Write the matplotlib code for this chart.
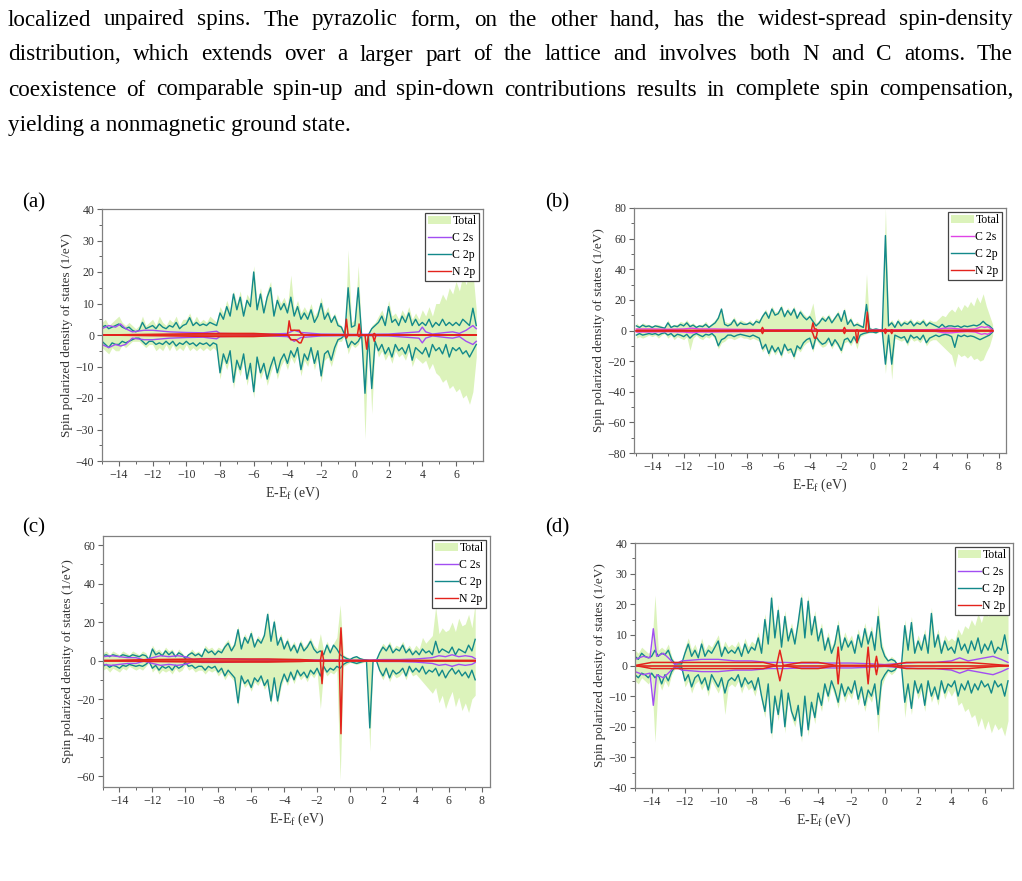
import numpy as np
import matplotlib
matplotlib.use("Agg")
import matplotlib.pyplot as plt
from matplotlib.patches import Patch
from matplotlib.lines import Line2D
from matplotlib.ticker import MultipleLocator

plt.rcParams['font.family'] = ['Liberation Serif', 'DejaVu Serif']
plt.rcParams['mathtext.fontset'] = 'custom'
plt.rcParams['mathtext.rm'] = 'Liberation Serif'
plt.rcParams['mathtext.it'] = 'Liberation Serif:italic'

# paragraph text above the figure
para_lines = [
    "localized unpaired spins. The pyrazolic form, on the other hand, has the widest-spread spin-density",
    "distribution, which extends over a larger part of the lattice and involves both N and C atoms. The",
    "coexistence of comparable spin-up and spin-down contributions results in complete spin compensation,",
    "yielding a nonmagnetic ground state.",
]

legend_labels = ["Total", "C 2s", "C 2p", "N 2p"]
panel_tags = ["(a)", "(b)", "(c)", "(d)"]

# ---------------- panel (a), 0.2 eV grid from -15 eV ----------------
c2p_up_a = [2.5, 3, 2, 2.5, 3, 3.5, 2.5, 2, 2.5, 1.5, 1, 1.5, 4, 2, 2.5, 3, 2, 3.5, 2.5, 2,
            3, 2.5, 4, 2, 3, 3.5, 5.5, 3, 4, 3, 3.5, 3, 4, 3.5, 3, 7, 5, 9, 6, 13,
            8, 12, 6, 11, 9, 20, 8, 13, 7, 12, 15, 6, 11, 8, 10, 7, 12, 6, 9, 5,
            7, 5, 8, 4, 6, 10, 5, 7, 4, 6, 3, 2.5, 0, 15, 2.5, 3, 15, 0, 0, 0,
            2, 3, 4, 6, 3, 9, 4, 5, 3, 6, 4, 7, 3, 5, 3, 4, 3, 5, 2.5, 4,
            3, 5, 3, 4, 3, 4, 3, 5, 4, 3, 8.5, 3]
c2p_dn_a = [2, 3, 4, 2.5, 3, 3, 2, 2.5, 2, 1.5, 1, 1, 2, 3, 2, 2, 3, 2.5, 3, 2,
            3, 2, 3.5, 2.5, 3, 2, 3, 2.5, 3.5, 2.5, 3, 2.5, 3.5, 2.5, 3, 12, 6, 9, 5, 15,
            8, 11, 6, 14, 9, 18, 7, 12, 9, 14, 10, 7, 12, 8, 6, 9, 5, 7, 4, 11,
            6, 8, 4, 9, 5, 13, 6, 5, 8, 4, 1.5, 1, 0, 4, 2, 3, 2, 0, 18.5, 0,
            17, 2, 5, 3, 6, 4, 7, 3, 5, 4, 6, 3, 8, 4, 5, 6, 4, 7, 3, 5,
            4, 6, 3, 7, 4, 5, 4, 6, 5, 7, 5, 3]
tot_up_a = [4, 5, 3, 4, 5, 6, 4, 3, 4, 3, 2, 3, 6, 3, 4, 5, 3, 6, 4, 3,
            5, 4, 6, 3, 5, 5, 7, 4, 6, 4, 5, 4, 6, 5, 4, 9, 7, 11, 8, 14,
            10, 14, 8, 13, 11, 22, 10, 15, 9, 14, 17, 8, 13, 10, 12, 9, 19, 8, 11, 7,
            9, 7, 10, 6, 8, 12, 7, 9, 5, 7, 4, 3, 0, 27, 4, 5, 22, 0, 0, 0,
            3, 4, 6, 8, 5, 11, 6, 7, 5, 8, 6, 9, 5, 7, 5, 8, 6, 9, 6, 10,
            10, 13, 11, 15, 13, 17, 14, 19, 16, 20, 20, 8]
tot_dn_a = [4, 5, 6, 4, 5, 5, 3, 4, 3, 2, 2, 2, 3, 4, 3, 3, 5, 4, 5, 3,
            5, 3, 5, 4, 5, 3, 5, 4, 5, 4, 5, 4, 5, 4, 5, 14, 8, 11, 7, 17,
            10, 13, 8, 16, 11, 20, 9, 14, 11, 16, 12, 9, 14, 10, 8, 11, 7, 9, 6, 13,
            8, 10, 6, 11, 7, 15, 8, 7, 10, 6, 2, 2, 0, 6, 3, 4, 3, 0, 33, 0,
            25, 3, 7, 5, 8, 6, 9, 5, 7, 6, 8, 5, 10, 7, 8, 9, 8, 11, 9, 12,
            13, 15, 14, 17, 16, 18, 17, 20, 19, 22, 18, 7]
c2s_e_a = [-15, -14.6, -14.2, -13.9, -13.6, -13.2, -12.5, -12, -11, -10, -9, -8.2, -8, -7, -6, -5,
           -4, -3.6, -3.2, -2, 0, 2, 3.8, 4.0, 4.2, 4.6, 5.4, 5.8, 6.2, 6.6, 7.0, 7.2]
c2s_up_a = [2, 3, 2.5, 3.5, 2, 1, 1.5, 1.5, 1, 0.8, 0.7, 1.2, 0.5, 0.4, 0.3, 0.3,
            0.5, 1.5, 0.8, 0.3, 0.2, 0.3, 1, 2.5, 1, 0.3, 0.8, 1, 0.5, 1.5, 3, 2]
c2s_dn_a = [3, 4, 3, 3.5, 3, 1, 1.5, 1.5, 1, 0.8, 0.7, 1.2, 0.5, 0.4, 0.3, 0.3,
            0.5, 2, 0.8, 0.3, 0.2, 0.3, 1, 2.5, 1, 0.3, 0.8, 1, 0.5, 2, 3, 2]
n2p_e_a = [-15, -8, -6, -4.0, -3.9, -3.8, -3.5, -3.3, -3.2, -3.0, -2, -0.6, -0.5, -0.4,
           0.15, 0.25, 0.35, 0.6, 0.7, 0.8, 1.05, 1.15, 1.25, 7.2]
n2p_up_a = [0, 0.5, 0.5, 0, 4.5, 1.5, 1.5, 1.5, 0.5, 0, 0, 0, 5, 0, 0, 3.5, 0, 0, 0, 0, 0, 0.5, 0, 0]
n2p_dn_a = [0, 0.5, 0.5, 0, 0.5, 1.5, 1.5, 2.5, 2.5, 0, 0, 0, 1, 0, 0, 0.5, 0, 0, 4.5, 0, 0, 2, 0, 0]

# ---------------- panel (b) ----------------
c2p_up_b = [3, 2, 3.5, 2.5, 3, 2, 3, 2.5, 2, 1.5, 5, 2, 3, 2.5, 4, 3, 5, 2.5, 3.5, 2,
            3, 2.5, 4, 2, 3.5, 5, 8, 14, 4, 3, 4, 7, 3, 5, 4, 4, 5, 3.5, 6, 5,
            9, 12, 8, 14, 10, 11, 15, 9, 13, 10, 14, 8, 12, 9, 7, 9, 6, 3, 5, 8,
            6, 9, 5, 8, 11, 6, 13, 4, 7, 3, 4, 3, 2, 17, 1, 0.5, 1, 0.5, 0.5, 62,
            3, 5, 2, 6, 3, 5, 4, 6, 3, 5, 4, 6, 3, 5, 4, 3, 2, 4, 2, 3,
            3, 2.5, 3, 2, 3, 2.5, 3, 3.5, 3, 4, 6, 4, 3, 1]
c2p_dn_b = [3, 2, 3, 2.5, 2, 2.5, 2, 3, 2, 1.5, 3, 2, 4, 2.5, 3, 4, 2.5, 5, 3, 2,
            3, 4, 2.5, 3, 2, 4, 10, 6, 5, 3, 3, 4, 3, 2.5, 3, 3.5, 4, 3, 4, 5,
            12, 9, 15, 10, 14, 11, 16, 9, 13, 12, 17, 10, 12, 8, 6, 5, 12, 4, 7, 9,
            8, 5, 10, 6, 9, 13, 6, 5, 8, 4, 8, 3, 2, 1.5, 1, 1, 1.5, 0.5, 0.5, 22,
            3, 22, 3, 4, 5, 4, 8, 3, 5, 4, 6, 3, 8, 5, 4, 3, 4, 3, 2.5, 3,
            4, 11, 3, 4, 3, 4, 3.5, 4, 5, 6, 5, 4, 3, 1]
tot_up_b = [5, 3, 5, 4, 4, 3, 4, 4, 3, 2, 7, 3, 4, 4, 6, 5, 7, 4, 5, 3,
            4, 4, 6, 3, 5, 7, 10, 15, 6, 5, 6, 9, 5, 7, 6, 5, 7, 5, 8, 7,
            11, 14, 10, 16, 12, 13, 17, 11, 15, 12, 16, 10, 14, 11, 9, 11, 18, 5, 7, 10,
            8, 11, 7, 10, 13, 8, 15, 6, 9, 4, 6, 4, 3, 37, 2, 1, 1.5, 1, 1, 80,
            5, 7, 4, 8, 5, 7, 6, 8, 5, 7, 6, 8, 5, 7, 6, 6, 8, 10, 9, 12,
            14, 12, 16, 13, 17, 15, 19, 16, 22, 18, 24, 16, 10, 4]
tot_dn_b = [5, 4, 5, 4, 3, 4, 3, 5, 3, 2, 5, 3, 6, 4, 5, 6, 4, 13, 5, 3,
            5, 6, 4, 5, 3, 6, 12, 8, 7, 5, 5, 6, 5, 4, 5, 5, 6, 5, 6, 7,
            14, 11, 17, 12, 16, 13, 18, 11, 15, 14, 19, 12, 14, 10, 8, 7, 14, 6, 9, 11,
            10, 7, 12, 8, 11, 15, 8, 7, 10, 6, 12, 4, 3, 2, 1.5, 1.5, 2, 1, 1, 28,
            5, 32, 5, 6, 7, 6, 10, 5, 7, 6, 8, 5, 10, 7, 6, 6, 8, 10, 12, 14,
            16, 24, 15, 17, 16, 18, 16, 19, 18, 20, 19, 14, 10, 3]
c2s_e_b = [-15, -14, -13, -12, -11.5, -11, -10, -9, -8, -7, -6, -5, -4, -3, -2, -1, 0,
           1, 2, 3, 4, 4.5, 5, 5.5, 6, 6.5, 6.9, 7.1, 7.3, 7.6]
c2s_up_b = [1, 1, 0.8, 1, 1.5, 1, 1, 0.8, 0.7, 0.5, 0.5, 0.5, 0.5, 0.5, 0.4, 0.3, 0.2,
            0.5, 0.5, 0.5, 0.6, 1.5, 1.5, 1, 0.7, 1, 2.5, 2, 2.5, 0.5]
c2s_dn_b = [1, 1, 0.8, 1, 1.5, 1, 1, 0.8, 0.7, 0.5, 0.5, 0.5, 0.5, 0.5, 0.4, 0.3, 0.2,
            0.5, 0.5, 0.5, 0.6, 1.5, 1.5, 1, 0.7, 1, 2.5, 2, 2.5, 0.5]
n2p_e_b = [-15, -7.1, -7.0, -6.9, -3.9, -3.8, -3.7, -3.6, -3.5, -1.9, -1.8, -1.7, -1.1, -1.0,
           -0.9, -0.45, -0.35, -0.25, 0.7, 0.8, 0.9, 1.1, 1.2, 1.3, 7.6]
n2p_up_b = [0, 0, 2, 0, 0, 5, 1, 1, 0, 0, 2, 0, 0, 0.5, 0, 0, 12, 0, 0, 1, 0, 0, 0.5, 0, 0]
n2p_dn_b = [0, 0, 2, 0, 0, 2, 5, 5, 0, 0, 2, 0, 0, 8, 0, 0, 1, 0, 0, 2, 0, 0, 2, 0, 0]

# ---------------- panel (c) ----------------
c2p_up_c = [2.5, 3, 2, 3, 2.5, 2, 3, 2.5, 2, 3, 2.5, 2, 3, 2.5, 0.5, 6, 3, 4, 2.5, 5,
            3, 4.5, 2, 4, 3, 1, 3, 4, 2.5, 3.5, 2, 6, 4, 5, 3, 5, 4, 7, 9, 5,
            8, 16, 6, 12, 9, 14, 7, 11, 9, 13, 24, 10, 20, 8, 12, 6, 10, 5, 8, 4,
            9, 5, 7, 10, 6, 4, 5, 3, 8, 4, 8, 6, 3, 2, 1, 0.5, 1.5, 2, 1, 0.5,
            0.3, 0, 0, 0, 4, 7, 5, 8, 4, 6, 5, 8, 4, 6, 3, 5, 3, 6, 4, 5,
            3, 10, 4, 6, 5, 4, 7, 3, 6, 5, 4, 8, 5, 11]
c2p_dn_c = [3, 2, 3.5, 2.5, 3, 4, 2.5, 3, 2, 2.5, 3, 2.5, 3, 2, 0.5, 4, 2.5, 5, 3, 4,
            3, 5, 2.5, 4, 3, 1, 3, 2.5, 4, 3, 3, 5, 3, 4, 3, 6, 4, 8, 5, 7,
            9, 22, 8, 12, 10, 14, 9, 11, 8, 13, 10, 21, 9, 21, 12, 7, 11, 6, 10, 5,
            8, 6, 9, 5, 7, 4, 8, 3, 6, 4, 5, 3, 4, 2, 1, 0.5, 1, 1.5, 1, 0.5,
            0.3, 35, 0, 0, 5, 8, 4, 9, 5, 7, 6, 4, 8, 3, 6, 4, 6, 3, 7, 5,
            6, 4, 8, 5, 9, 6, 4, 7, 5, 8, 6, 9, 5, 10]
tot_up_c = [4, 5, 3, 5, 4, 3, 5, 4, 3, 5, 4, 3, 5, 4, 1, 8, 5, 6, 4, 7,
            5, 6, 3, 6, 4, 2, 4, 6, 4, 5, 3, 8, 6, 7, 5, 7, 6, 9, 11, 7,
            10, 18, 8, 14, 11, 16, 9, 13, 11, 15, 26, 12, 22, 10, 14, 8, 12, 7, 10, 6,
            11, 7, 9, 12, 8, 6, 14, 5, 10, 6, 9, 12, 29, 3, 2, 1, 2, 2.5, 1.5, 1,
            0.5, 0, 0, 0, 6, 9, 7, 10, 6, 8, 7, 10, 6, 8, 5, 8, 6, 12, 9, 11,
            13, 28, 14, 17, 15, 16, 20, 15, 22, 18, 19, 24, 17, 30]
tot_dn_c = [5, 4, 6, 4, 5, 6, 4, 5, 3, 4, 5, 4, 5, 3, 1, 6, 4, 7, 5, 6,
            5, 7, 4, 6, 5, 2, 5, 4, 6, 5, 5, 7, 5, 6, 5, 8, 6, 10, 7, 9,
            11, 24, 10, 14, 12, 16, 11, 13, 10, 15, 12, 23, 11, 23, 14, 9, 13, 8, 12, 7,
            10, 8, 11, 7, 9, 6, 25, 5, 8, 6, 7, 5, 62, 3, 2, 1, 1.5, 2, 1.5, 1,
            0.5, 47, 0, 0, 7, 10, 6, 11, 7, 9, 8, 6, 10, 5, 8, 7, 9, 11, 13, 15,
            17, 14, 22, 18, 25, 20, 16, 24, 19, 26, 22, 27, 20, 18]
c2s_e_c = [-15, -14.5, -14, -13.5, -13, -12.5, -12, -11.5, -11, -10.5, -10, -9.5, -9, -8, -7,
           -6, -5, -4, -3, -2, -1, 0, 1, 2, 3, 4, 5, 5.4, 5.8, 6.2, 6.6, 7.0, 7.4, 7.6]
c2s_up_c = [2, 2.5, 2, 1.5, 1.5, 0.3, 1.5, 2.5, 2, 2.5, 2, 0.5, 1, 1, 0.8,
            0.5, 0.5, 0.4, 0.4, 0.3, 0.3, 0.2, 0.2, 0.5, 0.5, 0.8, 1.5, 2.5, 2, 3, 2, 2.5, 2, 1]
c2s_dn_c = [2, 2.5, 2, 1.5, 1.5, 0.3, 1.5, 2.5, 2, 2.5, 2, 0.5, 1, 1, 0.8,
            0.5, 0.5, 0.4, 0.4, 0.3, 0.3, 0.2, 0.2, 0.5, 0.5, 0.8, 1.5, 2.5, 2, 3, 2, 2.5, 2, 1]
n2p_e_c = [-15, -12, -9, -7, -5, -3, -1.8, -1.7, -1.6, -0.65, -0.55, -0.45, 1.0, 7.6]
n2p_up_c = [0, 0.5, 0.8, 0.8, 0.8, 0.5, 0, 5, 0, 0, 17, 0, 0, 0]
n2p_dn_c = [0, 0.5, 0.8, 0.8, 0.8, 0.5, 0, 12, 0, 0, 38, 0, 0, 0]

# ---------------- panel (d) ----------------
c2p_up_d = [3, 2, 4, 3, 2.5, 3, 5, 3, 4, 3.5, 5, 2, 0.5, 0.5, 0.5, 4, 7, 3, 5, 2.5,
            7, 3, 5, 4, 6, 8, 3, 6, 4, 5, 4, 6, 3, 7, 4, 6, 5, 9, 4, 15,
            7, 22, 9, 18, 6, 16, 8, 12, 7, 14, 22, 9, 21, 10, 16, 8, 12, 5, 9, 4,
            7, 13, 5, 9, 6, 8, 4, 10, 6, 12, 7, 11, 5, 16, 6, 3, 1.5, 2, 1.5, 0,
            0, 13, 5, 14, 4, 8, 5, 10, 4, 17, 6, 10, 4, 8, 5, 6, 4, 9, 5, 7,
            4, 8, 5, 9, 4, 7, 5, 8, 4, 6, 5, 10, 4]
c2p_dn_d = [3, 4, 2.5, 3, 4, 2.5, 4, 3, 6, 3, 5, 2, 0.5, 0.5, 0.5, 5, 3, 7, 4, 3,
            6, 4, 8, 3, 5, 7, 4, 9, 5, 4, 5, 3, 7, 4, 6, 5, 8, 4, 10, 15,
            6, 22, 10, 16, 8, 20, 9, 15, 18, 13, 23, 10, 21, 12, 17, 9, 13, 6, 10, 5,
            8, 12, 6, 10, 7, 9, 5, 11, 7, 13, 8, 10, 6, 16, 5, 3, 1.5, 2, 1.5, 0,
            0, 12, 6, 14, 5, 9, 6, 13, 5, 10, 7, 11, 5, 9, 6, 7, 5, 10, 6, 8,
            5, 9, 6, 8, 5, 7, 6, 9, 5, 7, 6, 10, 5]
tot_up_d = [5, 4, 6, 5, 4, 5, 23, 5, 6, 5, 7, 3, 1, 1, 1, 6, 9, 5, 7, 4,
            9, 5, 7, 6, 8, 10, 5, 8, 6, 7, 6, 8, 5, 9, 6, 8, 7, 11, 6, 17,
            9, 24, 11, 20, 8, 18, 10, 14, 9, 16, 24, 11, 23, 12, 18, 10, 14, 7, 11, 6,
            9, 15, 7, 11, 8, 10, 6, 12, 8, 14, 9, 13, 7, 20, 8, 4, 2, 3, 2, 0,
            0, 15, 7, 16, 6, 10, 7, 12, 6, 19, 8, 12, 6, 10, 8, 9, 8, 12, 10, 13,
            12, 15, 13, 17, 14, 18, 16, 20, 17, 19, 18, 22, 16]
tot_dn_d = [5, 6, 4, 5, 6, 4, 25, 5, 8, 5, 7, 3, 1, 1, 1, 7, 5, 9, 6, 5,
            8, 6, 10, 5, 7, 9, 6, 16, 7, 6, 7, 5, 9, 6, 8, 7, 10, 6, 12, 17,
            8, 24, 12, 18, 10, 22, 11, 17, 20, 15, 25, 12, 23, 14, 19, 11, 15, 8, 12, 7,
            10, 14, 8, 12, 9, 11, 7, 13, 9, 15, 10, 12, 8, 22, 7, 4, 2, 3, 2, 0,
            0, 17, 8, 16, 7, 11, 8, 15, 7, 12, 9, 13, 7, 11, 8, 10, 8, 13, 12, 15,
            14, 17, 16, 20, 17, 21, 18, 22, 19, 21, 20, 23, 18]
c2s_e_d = [-15, -14.5, -14.1, -13.9, -13.7, -13.3, -13.0, -12.6, -12.2, -11, -10, -9, -8, -7, -6,
           -5, -4, -3, -2, -1, 0, 1.2, 2, 3, 4, 4.5, 5, 5.5, 6, 6.5, 7, 7.4]
c2s_up_d = [2, 3, 2.5, 12, 3, 4, 2.5, 0.3, 1.5, 2, 2, 1.5, 1.5, 1, 1,
            0.8, 0.8, 0.8, 0.8, 0.6, 0.3, 0.8, 1, 1, 1.5, 2.5, 1.5, 2, 2.5, 3, 2, 1]
c2s_dn_d = [2, 3, 2.5, 13, 3, 4, 2.5, 0.3, 1.5, 2, 2, 1.5, 1.5, 1, 1,
            0.8, 0.8, 0.8, 0.8, 0.6, 0.3, 0.8, 1, 1, 1.5, 2.5, 1.5, 2, 2.5, 3, 2, 1]
n2p_e_d = [-15, -14, -12, -10, -8, -7.3, -6.5, -6.3, -6.1, -5, -4, -2.9, -2.8, -2.7, -1.1, -1.0,
           -0.9, -0.6, -0.5, -0.4, 0.2, 1.3, 3.6, 4.0, 5.0, 7.4]
n2p_up_d = [0, 1, 1, 1, 1, 1, 0, 5, 0, 1, 1, 0, 6, 0, 0, 6, 0, 0, 3, 0, 0, 1, 1, 1, 1, 0]
n2p_dn_d = [0, 1, 1, 1, 1, 1, 0, 5, 0, 1, 1, 0, 6, 0, 0, 6, 0, 0, 3, 0, 0, 1, 1, 1, 1, 0]

col_total = '#dcf3bb'
col_c2p = '#13898a'
col_n2p = '#e3231c'
col_c2s = ['#a24ef2', '#e043e6', '#a24ef2', '#a24ef2']

fig = plt.figure(figsize=(10.22, 8.81), dpi=100)

# justified paragraph
renderer = fig.canvas.get_renderer()
x_left, x_right = 8 / 1022, 1013 / 1022
line_y = [20, 55, 90, 125]
fs_para = 16.7
for k, line in enumerate(para_lines):
    y = 1 - line_y[k] / 881
    words = line.split(' ')
    if k == len(para_lines) - 1:
        fig.text(x_left, y, line, fontsize=fs_para, va='center', ha='left')
        continue
    txts = [fig.text(0, y, w, fontsize=fs_para, va='center', ha='left') for w in words]
    widths = [t.get_window_extent(renderer).width / 1022 for t in txts]
    gap = (x_right - x_left - sum(widths)) / (len(words) - 1)
    x = x_left
    for t, w in zip(txts, widths):
        t.set_x(x)
        x += w + gap

panels = [
    dict(rect=[102, 209, 483, 461], xlim=(-15, 7.6), ylim=(-40, 40), ymaj=10, xmax_tick=6,
         up=c2p_up_a, dn=c2p_dn_a, tu=tot_up_a, td=tot_dn_a,
         se=c2s_e_a, su=c2s_up_a, sd=c2s_dn_a, ne=n2p_e_a, nu=n2p_up_a, nd=n2p_dn_a),
    dict(rect=[634, 208, 1006, 453], xlim=(-15.15, 8.45), ylim=(-80, 80), ymaj=20, xmax_tick=8,
         up=c2p_up_b, dn=c2p_dn_b, tu=tot_up_b, td=tot_dn_b,
         se=c2s_e_b, su=c2s_up_b, sd=c2s_dn_b, ne=n2p_e_b, nu=n2p_up_b, nd=n2p_dn_b),
    dict(rect=[103, 536, 490, 787], xlim=(-15, 8.5), ylim=(-65.7, 64.7), ymaj=20, xmax_tick=8,
         up=c2p_up_c, dn=c2p_dn_c, tu=tot_up_c, td=tot_dn_c,
         se=c2s_e_c, su=c2s_up_c, sd=c2s_dn_c, ne=n2p_e_c, nu=n2p_up_c, nd=n2p_dn_c),
    dict(rect=[635, 543, 1013, 788], xlim=(-15, 7.7), ylim=(-40, 40), ymaj=10, xmax_tick=6,
         up=c2p_up_d, dn=c2p_dn_d, tu=tot_up_d, td=tot_dn_d,
         se=c2s_e_d, su=c2s_up_d, sd=c2s_dn_d, ne=n2p_e_d, nu=n2p_up_d, nd=n2p_dn_d),
]

for i, p in enumerate(panels):
    l, t, r, b = p['rect']
    ax = fig.add_axes([l / 1022, 1 - b / 881, (r - l) / 1022, (b - t) / 881])
    e = -15 + 0.2 * np.arange(len(p['up']))
    ax.fill_between(e, 0, p['tu'], color=col_total, lw=0)
    ax.fill_between(e, 0, -np.array(p['td']), color=col_total, lw=0)
    ax.plot(e, p['up'], color=col_c2p, lw=1.0)
    ax.plot(e, -np.array(p['dn']), color=col_c2p, lw=1.0)
    ax.plot(p['se'], p['su'], color=col_c2s[i], lw=1.0)
    ax.plot(p['se'], -np.array(p['sd']), color=col_c2s[i], lw=1.0)
    ax.plot(p['ne'], p['nu'], color=col_n2p, lw=1.1)
    ax.plot(p['ne'], -np.array(p['nd']), color=col_n2p, lw=1.1)
    ax.plot([e[0], e[-1]], [0, 0], color=col_n2p, lw=1.2)

    ax.set_xlim(*p['xlim'])
    ax.set_ylim(*p['ylim'])
    ax.set_xticks(np.arange(-14, p['xmax_tick'] + 1, 2))
    ax.xaxis.set_minor_locator(MultipleLocator(1))
    ax.yaxis.set_major_locator(MultipleLocator(p['ymaj']))
    ax.yaxis.set_minor_locator(MultipleLocator(p['ymaj'] / 2))
    ax.tick_params(which='major', direction='out', length=3.5, width=0.8, color='#666666',
                   labelsize=8.5, labelcolor='#333333', pad=2)
    ax.tick_params(which='minor', direction='out', length=2, width=0.7, color='#666666')
    for s in ax.spines.values():
        s.set_color('#808080')
        s.set_linewidth(0.9)
    ax.set_xlabel(r'E-E$_\mathrm{f}$ (eV)', fontsize=10, color='#333333', labelpad=3)
    ax.set_ylabel('Spin polarized density of states (1/eV)', fontsize=9.5, color='#333333',
                  labelpad=2)

    handles = [Patch(facecolor=col_total, edgecolor='none'),
               Line2D([], [], color=col_c2s[i], lw=1.0),
               Line2D([], [], color=col_c2p, lw=1.0),
               Line2D([], [], color=col_n2p, lw=1.0)]
    leg = ax.legend(handles, legend_labels, loc='upper right', fontsize=8.5, frameon=True,
                    fancybox=False, edgecolor='#444444', framealpha=1, borderpad=0.25,
                    labelspacing=0.4, handlelength=1.9, handletextpad=0.15, borderaxespad=0.3)
    leg.get_frame().set_linewidth(0.9)

    tag_x = 22 if i % 2 == 0 else 545
    tag_y = 203 if i < 2 else 528
    fig.text(tag_x / 1022, 1 - tag_y / 881, panel_tags[i], fontsize=15, va='center', ha='left')

fig.savefig('out.png', dpi=100)
